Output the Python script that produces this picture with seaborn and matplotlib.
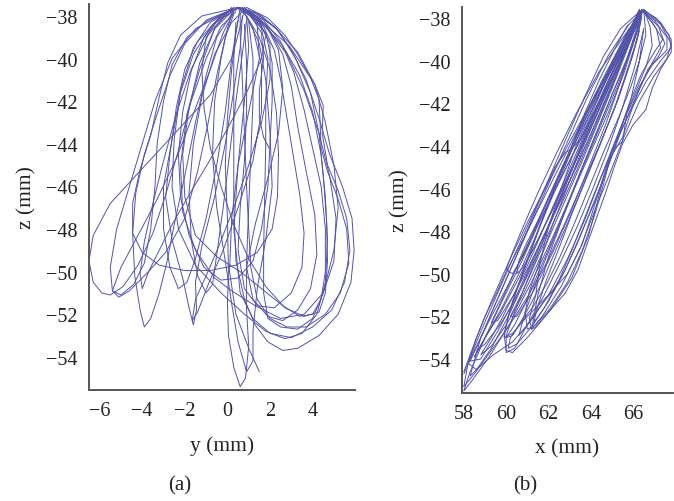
import numpy as np
import pandas as pd
import matplotlib
matplotlib.use("Agg")
import matplotlib.pyplot as plt
import seaborn as sns

# ------------------------------------------------------------
# traced trajectories, panel (a): y (mm) vs z (mm)
# ------------------------------------------------------------
yz_01 = [(0.8, -37.7), (0.6, -38.5), (0.2, -40.0), (-0.8, -41.7), (-2.0, -43.0), (-3.2, -44.3),
         (-4.4, -45.6), (-5.5, -46.8), (-6.3, -48.3), (-6.5, -49.5), (-6.3, -50.5), (-5.9, -51.0),
         (-5.5, -51.1), (-4.9, -50.7), (-4.2, -49.7), (-3.5, -48.2), (-2.9, -46.4), (-2.3, -44.3),
         (-1.7, -42.0), (-1.0, -40.0), (-0.3, -38.5), (0.4, -37.8)]
yz_02 = [(0.5, -37.6), (-1.2, -38.0), (-2.2, -38.9), (-2.8, -40.2), (-3.2, -41.8), (-3.6, -43.6),
         (-4.1, -45.2), (-4.45, -46.8), (-4.45, -48.2), (-4.0, -49.1), (-3.2, -49.7), (-2.0, -49.95),
         (-0.8, -49.95), (0.4, -49.7), (1.4, -49.1), (2.1, -48.0), (2.35, -46.5), (2.4, -44.5),
         (2.3, -42.5), (2.0, -40.5), (1.5, -39.0), (0.9, -38.0), (0.5, -37.6)]
yz_03 = [(0.2, -37.7), (-1.0, -38.2), (-2.0, -39.3), (-2.7, -40.8), (-3.3, -42.6), (-3.9, -44.5),
         (-4.3, -46.3), (-4.45, -48.2), (-4.35, -50.2), (-4.1, -51.8), (-3.9, -52.6), (-3.6, -52.2),
         (-3.2, -51.0), (-2.85, -49.6), (-2.5, -47.8), (-2.0, -45.5), (-1.5, -43.0), (-1.0, -40.8),
         (-0.5, -39.0), (0.2, -37.9)]
yz_04 = [(0.6, -37.6), (-0.5, -38.2), (-1.4, -39.2), (-2.0, -40.5), (-2.4, -42.3), (-2.7, -44.5),
         (-2.9, -46.5), (-2.6, -48.5), (-2.1, -50.3), (-1.8, -51.7), (-1.6, -52.5), (-1.45, -51.8),
         (-1.5, -50.5), (-1.2, -48.8), (-0.6, -46.5), (-0.1, -44.0), (0.3, -41.5), (0.6, -39.5),
         (0.7, -38.0)]
yz_05 = [(0.0, -37.8), (-1.5, -38.6), (-2.6, -40.0), (-3.4, -42.0), (-4.0, -44.0), (-4.6, -46.0),
         (-5.2, -48.0), (-5.5, -49.8), (-5.4, -50.9), (-5.1, -51.2), (-4.6, -50.9), (-3.8, -50.1),
         (-2.9, -49.1), (-2.0, -47.5), (-1.4, -45.3), (-0.9, -43.0), (-0.5, -40.8), (-0.1, -39.0),
         (0.3, -37.9)]
yz_06 = [(0.4, -37.7), (-0.7, -38.4), (-1.6, -39.8), (-2.2, -41.6), (-2.6, -43.8), (-3.0, -46.0),
         (-3.0, -48.0), (-2.7, -49.8), (-2.3, -50.8), (-1.9, -50.5), (-1.5, -49.4), (-1.0, -47.5),
         (-0.5, -45.0), (-0.1, -42.5), (0.2, -40.0), (0.5, -38.2)]
yz_07 = [(0.9, -37.6), (0.2, -38.3), (-0.6, -39.8), (-1.2, -41.8), (-1.6, -44.0), (-1.8, -46.3),
         (-1.7, -48.5), (-1.4, -50.2), (-1.0, -51.0), (-0.7, -50.6), (-0.5, -49.2), (-0.2, -47.0),
         (0.1, -44.5), (0.4, -42.0), (0.7, -39.8), (0.9, -38.2)]
yz_08 = [(0.6, -37.6), (0.4, -38.8), (0.2, -40.5), (0.0, -42.8), (-0.1, -45.0), (0.0, -47.5),
         (0.05, -50.0), (0.0, -51.5), (0.05, -53.0), (0.3, -54.5), (0.6, -55.4), (0.85, -55.0),
         (1.0, -53.5), (0.9, -51.8), (0.9, -49.5), (1.0, -47.0), (1.1, -44.5), (1.2, -42.0),
         (1.2, -40.0), (1.0, -38.3)]
yz_09 = [(0.3, -37.6), (0.0, -38.6), (-0.3, -40.0), (-0.6, -42.0), (-0.7, -44.5), (-0.5, -47.0),
         (-0.1, -49.5), (0.2, -51.5), (0.5, -53.3), (0.9, -54.7), (1.2, -54.2), (1.2, -52.8),
         (1.4, -50.8), (1.8, -48.5), (2.1, -46.0), (2.0, -43.5), (1.8, -41.0), (1.5, -39.3),
         (1.0, -38.2)]
yz_10 = [(0.7, -37.6), (1.4, -38.4), (1.5, -40.0), (1.0, -42.5), (0.5, -45.0), (0.2, -47.5),
         (0.1, -50.0), (0.4, -52.0), (1.0, -53.6), (1.5, -54.7)]
yz_11 = [(0.5, -37.6), (1.5, -37.9), (2.3, -38.6), (3.0, -39.6), (3.7, -41.0), (4.3, -42.8),
         (4.8, -44.5), (5.4, -46.0), (5.85, -47.5), (5.95, -49.0), (5.8, -50.5), (5.2, -52.0),
         (4.3, -53.0), (3.3, -53.6), (2.6, -53.7), (1.9, -53.3), (1.3, -52.5), (0.8, -51.3),
         (0.4, -49.5), (0.3, -47.0), (0.3, -44.5), (0.3, -42.0), (0.3, -40.0), (0.4, -38.3)]
yz_12 = [(0.2, -37.7), (-0.8, -38.3), (-1.6, -39.5), (-2.2, -41.5), (-2.5, -43.8), (-2.6, -46.0),
         (-2.3, -48.0), (-1.5, -49.7), (-0.3, -51.0), (0.8, -52.0), (1.8, -52.8), (2.7, -53.15),
         (3.5, -52.9), (4.2, -52.0), (4.6, -50.5), (4.7, -48.5), (4.6, -46.5), (4.4, -44.5),
         (4.0, -42.5), (3.4, -40.8), (2.6, -39.4), (1.6, -38.3), (0.6, -37.7)]
yz_13 = [(0.7, -37.6), (1.7, -38.2), (2.5, -39.2), (3.1, -40.6), (3.6, -42.4), (4.0, -44.2),
         (4.4, -46.0), (4.6, -48.0), (4.6, -50.0), (4.4, -51.3), (4.0, -52.0), (3.4, -52.1),
         (2.6, -51.6), (1.6, -50.8), (0.6, -50.0), (-0.5, -49.3), (-1.5, -48.3), (-2.0, -46.5),
         (-2.1, -44.5), (-1.8, -42.3), (-1.3, -40.2), (-0.6, -38.6), (0.2, -37.8)]
yz_14 = [(0.9, -37.7), (1.6, -38.6), (1.9, -40.0), (1.8, -42.0), (1.8, -44.0), (1.75, -46.5),
         (1.7, -49.0), (1.7, -51.0), (1.9, -52.2), (2.5, -52.6), (3.3, -52.7), (4.0, -52.2),
         (4.5, -51.0), (5.0, -49.0), (5.2, -47.0), (5.0, -45.0), (4.6, -43.0), (4.1, -41.2),
         (3.3, -39.7), (2.2, -38.5), (1.2, -37.8)]
yz_15 = [(1.0, -37.7), (2.0, -38.6), (2.9, -39.4), (3.5, -40.3), (4.1, -41.2), (4.5, -42.2),
         (4.45, -43.5), (4.7, -45.0), (5.2, -46.2), (5.6, -47.5), (5.75, -49.0), (5.5, -50.5),
         (4.9, -51.8), (4.0, -52.6), (3.0, -53.1), (2.0, -52.9), (1.2, -52.2), (0.6, -51.0),
         (0.3, -48.0), (0.5, -45.0), (0.8, -42.0), (1.0, -39.5), (0.9, -38.0)]
yz_16 = [(0.6, -37.6), (1.5, -38.3), (2.0, -39.3), (2.0, -41.0), (1.6, -43.0), (1.0, -45.0),
         (0.3, -47.0), (-0.4, -48.8), (-1.0, -50.2), (-1.5, -51.3), (-1.65, -52.3), (-1.4, -51.9),
         (-0.9, -50.6), (-0.2, -49.0), (0.5, -47.0), (1.2, -44.8), (1.6, -42.5), (1.6, -40.3),
         (1.2, -38.6), (0.7, -37.7)]
yz_17 = [(0.2, -37.6), (-0.6, -38.6), (-1.3, -40.5), (-1.9, -42.6), (-2.2, -45.0), (-2.1, -47.2),
         (-1.5, -49.0), (-0.6, -50.3), (0.2, -50.9), (1.3, -51.6), (2.5, -52.2), (3.6, -52.0),
         (4.5, -51.0), (5.0, -49.5), (5.1, -47.5), (4.8, -45.5), (4.3, -43.5), (3.6, -41.5),
         (2.8, -39.8), (1.8, -38.5), (0.8, -37.7)]
yz_18 = [(0.3, -37.7), (-0.9, -38.2), (-1.9, -39.0), (-2.6, -40.3), (-3.0, -42.0), (-3.3, -44.0),
         (-3.4, -46.0), (-3.6, -48.0), (-3.9, -49.6), (-4.4, -50.6), (-5.0, -51.1), (-5.4, -50.9),
         (-5.0, -49.8), (-4.2, -48.3), (-3.3, -46.6), (-2.4, -44.7), (-1.6, -42.6), (-0.8, -40.5),
         (-0.2, -38.8), (0.3, -37.8)]
yz_19 = [(0.4, -37.6), (1.1, -38.0), (1.6, -38.8), (1.7, -40.0), (1.5, -41.5), (1.5, -42.8),
         (1.7, -43.7), (1.95, -44.2)]
yz_20 = [(0.5, -37.6), (-0.3, -38.0), (-1.1, -39.0), (-1.7, -40.6), (-2.1, -42.5), (-2.3, -44.5),
         (-2.2, -46.5), (-1.8, -48.3), (-1.1, -49.8), (-0.3, -50.4), (0.5, -50.3), (1.2, -49.5),
         (1.6, -48.0), (1.9, -46.0), (2.0, -44.0), (2.1, -42.0), (2.1, -40.2), (1.8, -38.8),
         (1.1, -37.9)]
yz_21 = [(0.6, -37.6), (1.4, -38.1), (1.8, -38.9), (1.6, -40.0), (0.9, -41.6), (0.0, -43.3),
         (-0.9, -44.9), (-1.8, -46.4), (-2.6, -47.8), (-3.2, -49.0), (-3.7, -50.0), (-4.0, -50.8),
         (-4.1, -50.1), (-3.9, -48.6), (-3.5, -46.8), (-3.0, -44.8), (-2.4, -42.6), (-1.7, -40.5),
         (-0.9, -38.9), (-0.1, -37.9)]
yz_22 = [(0.3, -37.6), (-0.4, -38.1), (-1.0, -39.0), (-1.2, -40.5), (-1.1, -42.3), (-0.8, -44.2),
         (-0.3, -46.0), (0.3, -47.8), (1.0, -49.4), (1.8, -50.7), (2.7, -51.7), (3.6, -52.1),
         (4.3, -51.9), (4.6, -51.0), (4.7, -49.5), (4.65, -47.5), (4.5, -45.5), (4.3, -43.5),
         (3.9, -41.6), (3.2, -40.0), (2.4, -38.7), (1.4, -37.9)]
yz_23 = [(0.9, -37.6), (1.9, -38.1), (2.7, -38.9), (3.3, -39.8), (3.9, -40.9), (4.3, -41.9),
         (4.35, -43.0), (4.4, -44.2), (4.7, -45.3), (5.2, -46.6), (5.6, -48.0), (5.7, -49.6),
         (5.3, -51.0), (4.6, -52.0), (3.7, -52.6), (2.8, -52.6), (2.0, -52.2), (1.4, -51.3),
         (1.1, -49.8), (1.0, -48.0), (0.9, -46.0), (0.8, -43.5), (0.7, -41.0), (0.6, -38.8),
         (0.6, -37.8)]
yz_24 = [(0.8, -37.6), (1.7, -38.5), (2.2, -39.6), (2.5, -41.0), (2.8, -42.8), (3.1, -44.6),
         (3.4, -46.4), (3.6, -48.2), (3.5, -49.8), (3.0, -51.0), (2.2, -51.7), (1.4, -51.6),
         (0.8, -50.8), (0.5, -49.0), (0.6, -47.0), (0.8, -44.8), (0.9, -42.5), (0.9, -40.2),
         (0.8, -38.4)]
yz_25 = [(0.5, -37.6), (1.3, -38.0), (2.0, -38.7), (2.6, -39.8), (3.0, -41.3), (3.3, -43.2),
         (3.7, -45.3), (4.1, -47.3), (4.2, -49.2), (3.9, -50.8), (3.3, -51.8), (2.6, -52.3),
         (1.9, -52.1), (1.2, -51.3), (0.9, -49.8), (1.3, -47.8), (1.9, -45.6), (2.4, -43.5),
         (2.6, -41.4), (2.4, -39.6), (1.8, -38.4), (1.1, -37.8)]

# ------------------------------------------------------------
# traced trajectories, panel (b): x (mm) vs z (mm)
# ------------------------------------------------------------
xz_01 = [(66.4, -37.6), (66.0, -38.5), (65.3, -40.0), (64.5, -41.7), (63.6, -43.5), (62.6, -45.5),
         (61.6, -47.5), (60.7, -49.5), (59.8, -51.3), (59.0, -53.0), (58.3, -54.6), (58.0, -55.5),
         (58.4, -55.0), (59.2, -53.9), (60.2, -52.3), (61.2, -50.4), (62.1, -48.5), (63.0, -46.5),
         (63.9, -44.5), (64.8, -42.5), (65.6, -40.5), (66.2, -38.6), (66.4, -37.7)]
xz_02 = [(66.3, -37.7), (65.8, -38.8), (65.0, -40.3), (64.0, -42.0), (63.0, -43.8), (62.0, -45.7),
         (61.0, -47.6), (60.1, -49.5), (59.3, -51.3), (58.6, -53.0), (58.0, -54.6)]
xz_03 = [(66.5, -37.6), (67.3, -38.3), (67.8, -39.2), (67.6, -39.9), (67.0, -40.7), (66.3, -41.9),
         (65.6, -43.5), (64.9, -45.3), (64.2, -47.0), (63.5, -48.8), (62.6, -50.6), (61.7, -52.0),
         (61.2, -52.6), (61.1, -52.1), (61.4, -51.0), (61.6, -49.5), (62.0, -47.8), (62.6, -46.0),
         (63.3, -44.0), (64.2, -42.0), (65.0, -40.2), (65.8, -38.6), (66.4, -37.7)]
xz_04 = [(66.4, -37.6), (67.0, -38.1), (67.6, -38.9), (67.6, -39.5), (66.9, -40.2), (66.3, -41.2),
         (65.7, -42.5), (65.5, -43.8), (65.0, -44.2), (64.5, -45.9), (63.9, -48.2), (63.1, -50.2),
         (62.1, -51.7), (61.0, -53.0), (60.3, -53.7), (60.0, -53.6), (59.9, -52.8), (60.3, -51.3),
         (60.9, -49.6), (61.6, -47.7), (62.4, -45.7), (63.3, -43.6), (64.2, -41.6), (65.2, -39.8),
         (66.0, -38.3)]
xz_05 = [(66.4, -37.7), (65.6, -38.8), (64.4, -40.5), (63.3, -42.5), (62.4, -44.3), (61.5, -46.2),
         (60.8, -47.8), (60.3, -49.0), (60.0, -49.8), (60.3, -50.0), (60.9, -49.0), (61.6, -47.3),
         (62.5, -45.3), (63.5, -43.2), (64.5, -41.3), (65.6, -39.3), (66.3, -37.9)]
xz_06 = [(66.3, -37.6), (65.7, -38.9), (64.8, -40.7), (64.0, -42.6), (63.5, -43.7), (63.0, -44.2),
         (62.8, -44.3), (62.3, -45.0), (61.6, -46.5), (60.9, -48.2), (60.2, -49.8), (59.5, -51.4),
         (58.9, -52.8), (58.3, -54.1), (58.8, -54.0), (59.6, -52.7), (60.5, -51.0), (61.4, -49.0),
         (62.3, -47.1), (63.2, -45.2), (64.1, -43.2), (64.9, -41.3), (65.7, -39.4), (66.3, -37.8)]
xz_07 = [(66.4, -37.6), (66.9, -38.2), (67.4, -39.0), (67.0, -39.6), (66.4, -40.6), (65.9, -41.8),
         (65.4, -43.2), (64.8, -44.8), (64.3, -46.4), (63.6, -48.6), (62.9, -50.0), (62.0, -51.0),
         (61.0, -52.0), (60.3, -52.8), (59.9, -53.0), (60.1, -52.0), (60.6, -50.5), (61.3, -48.6),
         (62.0, -46.7), (62.8, -44.7), (63.7, -42.6), (64.7, -40.6), (65.6, -38.9), (66.3, -37.8)]
xz_08 = [(66.5, -37.6), (66.0, -38.7), (65.0, -40.6), (64.0, -42.8), (63.2, -44.8), (62.4, -46.8),
         (61.7, -48.6), (61.0, -50.3), (60.4, -51.8), (60.0, -52.9), (60.0, -53.7), (60.4, -53.5),
         (61.0, -52.4), (61.8, -51.0), (62.6, -49.4), (63.4, -47.7), (64.1, -46.0), (64.8, -44.2),
         (65.5, -42.2), (66.1, -40.2), (66.5, -38.5)]
xz_09 = [(66.3, -37.7), (65.4, -38.5), (64.6, -39.8), (63.8, -41.5), (62.9, -43.5), (61.9, -45.8),
         (60.9, -48.0), (60.0, -50.0), (59.2, -51.8), (58.6, -53.2), (58.2, -54.2), (58.6, -54.5),
         (59.3, -53.5), (60.2, -51.8), (61.0, -50.0), (61.8, -48.2), (62.6, -46.3), (63.5, -44.2),
         (64.4, -42.2), (65.4, -40.0), (66.1, -38.3)]
xz_10 = [(66.4, -37.6), (67.1, -38.0), (67.7, -38.8), (67.8, -39.4), (67.3, -40.0), (66.6, -41.0),
         (65.9, -42.3), (65.1, -44.0), (64.4, -45.7), (63.7, -47.5), (62.9, -49.3), (62.0, -51.0),
         (61.1, -52.3), (60.3, -53.2), (59.4, -53.8), (58.7, -54.4), (58.3, -54.8), (58.8, -53.0),
         (59.5, -51.4), (60.3, -49.6), (61.1, -47.8), (62.0, -45.8), (62.9, -43.8), (63.8, -41.8),
         (64.8, -39.8), (65.8, -38.3)]
xz_11 = [(66.3, -37.7), (65.9, -39.0), (65.2, -40.8), (64.3, -42.9), (63.4, -45.0), (62.5, -47.0),
         (61.6, -49.0), (60.8, -50.8), (60.2, -52.0), (60.5, -52.0), (61.3, -50.8), (62.2, -49.0),
         (63.1, -47.0), (63.9, -45.0), (64.7, -43.0), (65.4, -41.0), (66.0, -39.0), (66.4, -37.8)]
xz_12 = [(66.3, -37.6), (65.8, -38.6), (65.0, -40.2), (64.1, -41.9), (63.3, -43.4), (62.5, -45.0),
         (61.6, -46.8), (60.8, -48.4), (60.0, -49.9), (59.5, -51.0), (59.0, -52.0), (58.6, -53.0),
         (58.2, -54.2), (58.0, -55.3), (58.5, -54.7), (59.3, -53.6), (60.1, -52.5), (61.0, -51.1),
         (61.9, -49.5), (62.7, -47.8), (63.5, -46.0), (64.4, -44.0), (65.3, -41.8), (66.0, -39.7),
         (66.4, -38.0)]
xz_13 = [(66.5, -37.6), (67.3, -38.2), (67.8, -39.0), (67.8, -39.6), (67.3, -40.4), (66.9, -41.3),
         (66.6, -42.3), (66.0, -43.0), (65.5, -43.9), (65.1, -45.0), (64.7, -46.2), (64.3, -47.3),
         (63.9, -48.4), (63.4, -49.8), (62.8, -50.9), (62.0, -51.8), (61.4, -52.5), (61.2, -52.6),
         (61.5, -51.0), (62.0, -49.2), (62.7, -47.3), (63.5, -45.3), (64.4, -43.2), (65.3, -41.1),
         (66.0, -39.2), (66.4, -37.8)]
xz_14 = [(66.4, -37.7), (65.9, -38.9), (65.1, -40.6), (64.2, -42.5), (63.3, -44.6), (62.4, -46.5),
         (61.5, -48.4), (60.6, -50.2), (59.7, -51.9), (59.0, -53.0), (58.5, -53.9), (58.9, -53.2),
         (59.8, -51.6), (60.7, -49.8), (61.5, -48.0), (62.3, -46.1), (63.1, -44.2), (64.0, -42.2),
         (64.9, -40.3), (65.8, -38.5)]
xz_15 = [(66.5, -37.7), (67.2, -38.4), (67.5, -39.2), (67.2, -39.8), (66.7, -40.4), (66.3, -41.3),
         (65.9, -42.4), (65.5, -43.6), (65.2, -44.1), (64.9, -44.6), (64.6, -45.8), (64.2, -47.2),
         (63.6, -48.9), (62.9, -50.4), (62.1, -51.6), (61.4, -52.4), (61.0, -52.6), (60.9, -51.8),
         (61.1, -50.8), (61.6, -49.4), (62.2, -47.7), (62.9, -45.9), (63.7, -43.9), (64.6, -41.8),
         (65.5, -39.8), (66.2, -38.2)]
xz_16 = [(66.4, -37.6), (66.1, -38.3), (65.6, -39.5), (64.9, -41.0), (64.0, -42.8), (63.0, -44.7),
         (62.0, -46.7), (61.0, -48.7), (60.0, -50.7), (59.2, -52.2), (58.5, -53.6), (58.0, -54.7)]
xz_17 = [(66.4, -37.6), (66.2, -38.6), (65.7, -40.0), (65.0, -41.6), (64.3, -43.3), (63.6, -45.0),
         (62.9, -46.7), (62.2, -48.4), (61.5, -50.0), (60.9, -51.4), (60.4, -52.4), (60.0, -53.0),
         (60.3, -52.9), (60.9, -51.9), (61.6, -50.6), (62.3, -49.0), (63.0, -47.4), (63.7, -45.7),
         (64.4, -44.0), (65.1, -42.3), (65.7, -40.6), (66.2, -39.0), (66.4, -37.9)]
xz_18 = [(66.3, -37.7), (65.9, -38.6), (65.3, -39.9), (64.6, -41.4), (63.9, -43.0), (63.2, -44.6),
         (62.5, -46.2), (61.8, -47.8), (61.1, -49.4), (60.4, -50.9), (59.8, -52.1), (59.3, -53.0),
         (58.8, -53.8), (59.3, -53.4), (60.0, -52.4), (60.8, -51.0), (61.5, -49.5), (62.2, -47.9),
         (62.9, -46.3), (63.6, -44.7), (64.3, -43.0), (65.0, -41.3), (65.6, -39.6), (66.1, -38.3)]
xz_19 = [(66.5, -37.6), (66.8, -38.4), (66.9, -39.3), (66.6, -40.3), (66.1, -41.5), (65.5, -42.9),
         (64.9, -44.4), (64.3, -45.9), (63.7, -47.4), (63.1, -48.9), (62.5, -50.3), (61.8, -51.6),
         (61.3, -52.3), (61.5, -51.5), (61.9, -50.3), (62.5, -48.8), (63.1, -47.2), (63.8, -45.5),
         (64.5, -43.8), (65.2, -42.0), (65.8, -40.2), (66.3, -38.6)]
xz_20 = [(66.4, -37.6), (66.0, -38.4), (65.4, -39.6), (64.7, -41.0), (63.9, -42.6), (63.0, -44.4),
         (62.2, -46.1), (61.4, -47.8), (60.6, -49.5), (59.9, -51.0), (59.3, -52.3), (59.6, -52.2),
         (60.3, -51.1), (61.1, -49.6), (61.9, -48.0), (62.7, -46.3), (63.5, -44.6), (64.2, -43.0),
         (64.9, -41.4), (65.6, -39.7), (66.2, -38.2)]
xz_21 = [(66.5, -37.7), (67.1, -38.5), (67.3, -39.4), (66.9, -40.1), (66.5, -40.9), (66.0, -42.0),
         (65.4, -43.4), (64.8, -45.0), (64.2, -46.6), (63.5, -48.2), (62.8, -49.8), (62.2, -50.8),
         (61.7, -51.4), (61.0, -52.4), (60.6, -52.9), (60.9, -51.8), (61.5, -50.2), (62.2, -48.5),
         (62.9, -46.8), (63.6, -45.0), (64.3, -43.3), (65.0, -41.6), (65.7, -39.9), (66.3, -38.3)]
xz_22 = [(66.3, -37.6), (65.8, -38.9), (65.1, -40.4), (64.4, -42.0), (63.7, -43.7), (63.0, -45.4),
         (62.3, -47.1), (61.7, -48.6), (61.0, -50.1), (60.4, -51.3), (59.7, -52.4), (59.0, -53.3),
         (58.6, -53.6)]
xz_23 = [(66.4, -37.7), (65.7, -38.4), (65.1, -39.5), (64.4, -40.9), (63.7, -42.5), (63.1, -44.0),
         (62.4, -45.6), (61.6, -47.3), (60.9, -48.7), (60.6, -49.4), (60.5, -50.0), (60.8, -49.7),
         (61.4, -48.6), (62.2, -47.0), (63.0, -45.3), (63.9, -43.4), (64.7, -41.6), (65.5, -39.8),
         (66.2, -38.3)]
xz_24 = [(66.5, -37.6), (66.6, -38.8), (66.3, -40.0), (65.9, -41.2), (65.3, -42.7), (64.6, -44.3),
         (63.9, -46.0), (63.2, -47.7), (62.5, -49.3), (61.9, -50.5), (61.3, -51.5), (60.7, -52.3),
         (60.2, -53.0), (60.1, -53.5), (60.5, -53.3), (61.2, -52.5), (62.0, -51.3), (62.7, -50.0),
         (63.4, -48.5), (64.0, -47.0), (64.7, -45.3), (65.3, -43.6), (65.9, -41.8), (66.3, -40.0),
         (66.5, -38.5)]

left_traces = [yz_01, yz_02, yz_03, yz_04, yz_05, yz_06, yz_07, yz_08, yz_09, yz_10, yz_11, yz_12,
               yz_13, yz_14, yz_15, yz_16, yz_17, yz_18, yz_19, yz_20, yz_21, yz_22, yz_23, yz_24,
               yz_25]
right_traces = [xz_01, xz_02, xz_03, xz_04, xz_05, xz_06, xz_07, xz_08, xz_09, xz_10, xz_11, xz_12,
                xz_13, xz_14, xz_15, xz_16, xz_17, xz_18, xz_19, xz_20, xz_21, xz_22, xz_23, xz_24]

line_color = "#5252a8"
text_color = "#222222"
z_ticks = [-54, -52, -50, -48, -46, -44, -42, -40, -38]


def to_frame(traces):
    rows = []
    for k, tr in enumerate(traces):
        for h, z in tr:
            rows.append((k, h, z))
    return pd.DataFrame(rows, columns=["trace", "h", "z"])


def style_axis(ax):
    for side in ["top", "right"]:
        ax.spines[side].set_visible(False)
    for side in ["left", "bottom"]:
        ax.spines[side].set_color("#555555")
        ax.spines[side].set_linewidth(1.4)
    ax.tick_params(direction="in", length=4, width=1, color="#555555",
                   labelsize=14.5, labelcolor=text_color, pad=8)
    ax.grid(False)


sns.set_theme(style="white")
plt.rcParams["font.family"] = ["Liberation Serif", "DejaVu Serif"]
plt.rcParams["axes.unicode_minus"] = True

fig = plt.figure(figsize=(6.74, 5.02), dpi=100)
ax1 = fig.add_axes([0.132, 0.221, 0.395, 0.769])
ax2 = fig.add_axes([0.685, 0.215, 0.314, 0.769])

df_left = to_frame(left_traces)
df_right = to_frame(right_traces)

sns.lineplot(data=df_left, x="h", y="z", units="trace", estimator=None, sort=False,
             color=line_color, lw=0.7, ax=ax1)
sns.lineplot(data=df_right, x="h", y="z", units="trace", estimator=None, sort=False,
             color=line_color, lw=0.7, ax=ax2)

ax1.set_xlim(-6.5, 6.0)
ax1.set_ylim(-55.56, -37.44)
ax1.set_xticks([-6, -4, -2, 0, 2, 4])
ax1.set_yticks(z_ticks)
ax1.set_xlabel("y (mm)", fontsize=15.5, color=text_color, labelpad=11)
ax1.set_ylabel("z (mm)", fontsize=15.5, color=text_color, labelpad=7)

ax2.set_xlim(57.9, 67.9)
ax2.set_ylim(-55.6, -37.48)
ax2.set_xticks([58, 60, 62, 64, 66])
ax2.set_yticks(z_ticks)
ax2.set_xlabel("x (mm)", fontsize=15.5, color=text_color, labelpad=11)
ax2.set_ylabel("z (mm)", fontsize=15.5, color=text_color, labelpad=7)

style_axis(ax1)
style_axis(ax2)

fig.text(180 / 674, 1 - 486 / 502, "(a)", fontsize=15, color=text_color, ha="center", va="center")
fig.text(525 / 674, 1 - 486 / 502, "(b)", fontsize=15, color=text_color, ha="center", va="center")

fig.savefig("out.png", dpi=100)
